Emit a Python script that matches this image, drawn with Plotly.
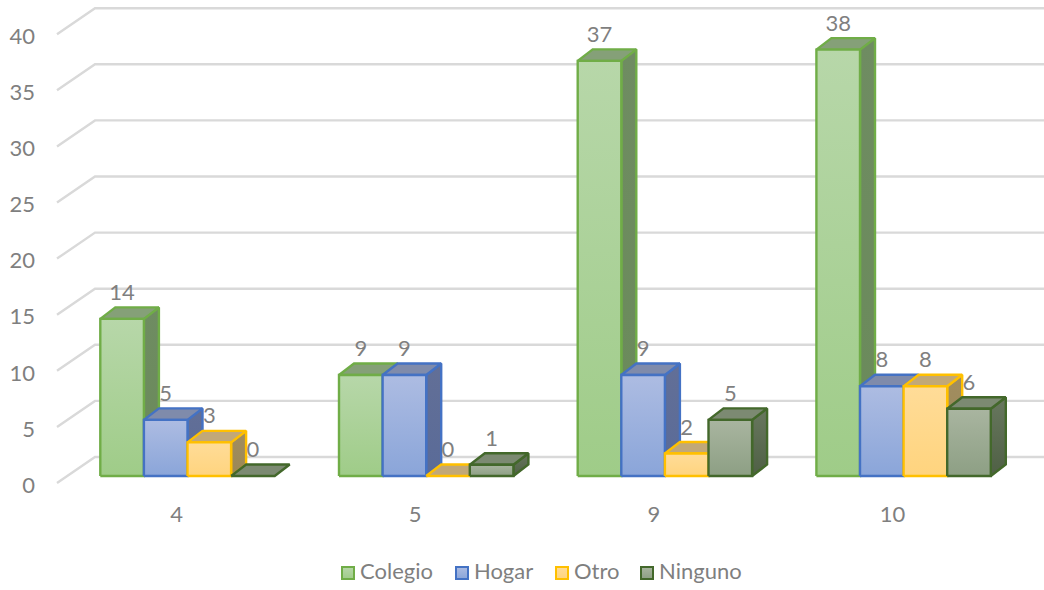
import plotly.graph_objects as go

categories = ["4", "5", "9", "10"]
series_names = ["Colegio", "Hogar", "Otro", "Ninguno"]
colegio = [14, 9, 37, 38]
hogar = [5, 9, 9, 8]
otro = [3, 0, 2, 8]
ninguno = [0, 1, 5, 6]
y_ticks = [0, 5, 10, 15, 20, 25, 30, 35, 40]

styles = [
    dict(edge="#70ad47", top="#85a078", s1="#6f8c62", s2="#6a8a5a", f1="#b7d7a9", f2="#9fcc88"),
    dict(edge="#4472c4", top="#7f8bab", s1="#626f97", s2="#5a6b98", f1="#adbce2", f2="#8aa5d9"),
    dict(edge="#ffc000", top="#c1a878", s1="#a18d60", s2="#9c8855", f1="#ffdc98", f2="#ffd47e"),
    dict(edge="#43682b", top="#7c8a72", s1="#68775e", s2="#4f6045", f1="#a9b5a0", f2="#8d9f84"),
]
values = [colegio, hogar, otro, ninguno]

FONT = "Lato, Carlito, sans-serif"
GREY = "#7f7f7f"
FS = 22
W, H = 1044, 590
L, B = 40, 95
UX = 238.7          # px per category
UY = 11.22          # px per value unit
X0 = 176.5          # px of first category
Y0 = 483            # px of value 0 on the front plane


def dx(px):
    return px / UX


def dy(px):
    return px / UY


x_range = [(L - X0) / UX, (W - X0) / UX]
y_range = [(Y0 - (H - B)) / UY, Y0 / UY]

fig = go.Figure()

# floor/wall gridlines
wall_x = dx(57 - X0)
for t in y_ticks:
    fig.add_trace(go.Scatter(
        x=[wall_x, wall_x + dx(38), x_range[1]],
        y=[t, t + dy(26), t + dy(26)],
        mode="lines", line=dict(color="#d9d9d9", width=2.4),
        hoverinfo="skip", showlegend=False))

BAR_W = dx(43.6)
DEPTH_X, DEPTH_Y = dx(15), dy(11.5)
FLOOR_X, FLOOR_Y = dx(11), dy(7)

label_x, label_y, label_t = [], [], []
for c in range(len(categories)):
    start = c + FLOOR_X - 2 * BAR_W
    for s, st in enumerate(styles):
        v = values[s][c]
        x1 = start + s * BAR_W
        x2 = x1 + BAR_W
        y1 = FLOOR_Y
        y2 = FLOOR_Y + v
        line = dict(color=st["edge"], width=2.4)
        # side face
        if v > 0:
            fig.add_trace(go.Scatter(
                x=[x2, x2 + DEPTH_X, x2 + DEPTH_X, x2, x2],
                y=[y1, y1 + DEPTH_Y, y2 + DEPTH_Y, y2, y1],
                mode="lines", line=line, fill="toself",
                fillgradient=dict(type="vertical", colorscale=[[0, st["s2"]], [1, st["s1"]]]),
                hoverinfo="skip", showlegend=False))
        # top face
        fig.add_trace(go.Scatter(
            x=[x1, x2, x2 + DEPTH_X, x1 + DEPTH_X, x1],
            y=[y2, y2, y2 + DEPTH_Y, y2 + DEPTH_Y, y2],
            mode="lines", line=line, fill="toself", fillcolor=st["top"],
            hoverinfo="skip", showlegend=False))
        # front face
        if v > 0:
            fig.add_trace(go.Scatter(
                x=[x1, x2, x2, x1, x1],
                y=[y1, y1, y2, y2, y1],
                mode="lines", line=line, fill="toself",
                fillgradient=dict(type="vertical", colorscale=[[0, st["f2"]], [1, st["f1"]]]),
                hoverinfo="skip", showlegend=False))
        label_x.append((x1 + x2) / 2)
        label_y.append(y2 + dy(24.5))
        label_t.append(str(v))

fig.add_trace(go.Scatter(
    x=label_x, y=label_y, text=label_t, mode="text", textposition="middle center",
    textfont=dict(family=FONT, size=FS, color=GREY), hoverinfo="skip", showlegend=False))

# legend keys live on a hidden lower axis covering the bottom band
legend_px = [348, 462, 562, 647]
for name, st, lx in zip(series_names, styles, legend_px):
    fig.add_trace(go.Scatter(
        x=[dx(lx - X0)], y=[H - 573], mode="markers", yaxis="y2",
        marker=dict(symbol="square", size=12,
                    color=st["f1"], gradient=dict(type="vertical", color=st["f2"]),
                    line=dict(color=st["edge"], width=2)),
        name=name, showlegend=False))
    fig.add_trace(go.Scatter(
        x=[dx(lx + 12 - X0)], y=[H - 573], text=[name], mode="text", yaxis="y2",
        textposition="middle right",
        textfont=dict(family=FONT, size=FS, color=GREY),
        hoverinfo="skip", showlegend=False))

fig.update_layout(
    width=W, height=H, autosize=False,
    margin=dict(l=L, r=0, t=0, b=0, pad=0, autoexpand=False),
    paper_bgcolor="white", plot_bgcolor="rgba(0,0,0,0)",
    showlegend=False, hovermode=False,
    font=dict(family=FONT, size=FS, color=GREY),
    xaxis=dict(range=x_range, tickmode="array", tickvals=list(range(len(categories))),
               ticktext=categories, showgrid=False, zeroline=False, showline=False,
               ticks="", fixedrange=True, anchor="y", automargin=False,
               ticklabelstandoff=4,
               tickfont=dict(family=FONT, size=FS, color=GREY)),
    yaxis=dict(range=y_range, domain=[B / H, 1], tickmode="array",
               tickvals=[t - dy(2) for t in y_ticks],
               ticktext=[str(t) for t in y_ticks], showgrid=False, zeroline=False,
               showline=False, ticks="", fixedrange=True, automargin=False,
               ticklabelstandoff=4,
               tickfont=dict(family=FONT, size=FS, color=GREY)),
    yaxis2=dict(range=[0, B], domain=[0, B / H], visible=False, fixedrange=True, anchor="x"),
)
fig.write_html("out.html", config=dict(displayModeBar=False),
               post_script="document.body.style.margin='0';")
